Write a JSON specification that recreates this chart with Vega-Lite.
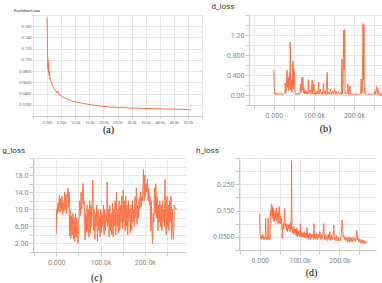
{
  "$schema": "https://vega.github.io/schema/vega-lite/v6.json",
  "padding": {"left": 2, "top": 2, "right": 0, "bottom": 0},
  "background": "white",
  "config": {
    "view": {"stroke": null},
    "axis": {
      "domainColor": "#c8c8c8",
      "gridColor": "#e6e6e6",
      "tickColor": "#c8c8c8",
      "tickSize": 4,
      "labelColor": "#888",
      "labelFontSize": 7,
      "labelFont": "Roboto",
      "labelPadding": 1,
      "labelOverlap": false,
      "labelFlush": false,
      "titleFont": "Liberation Serif",
      "titleFontSize": 10,
      "titleFontWeight": "normal",
      "titleColor": "#000",
      "titleBaseline": "middle",
      "titleAnchor": null
    },
    "title": {"font": "Roboto", "fontWeight": "normal", "color": "#333", "anchor": "start", "frame": "group"}
  },
  "datasets": {
    "a": [
      {"step": 0, "v": 0.175}, {"step": 150, "v": 0.12}, {"step": 250, "v": 0.085}, {"step": 350, "v": 0.1}, {"step": 450, "v": 0.078}, {"step": 550, "v": 0.095}, {"step": 700, "v": 0.072}, {"step": 850, "v": 0.08}, {"step": 1000, "v": 0.066}, {"step": 1200, "v": 0.068}, {"step": 1400, "v": 0.06}, {"step": 1600, "v": 0.059}, {"step": 1800, "v": 0.055}, {"step": 2000, "v": 0.054}, {"step": 2300, "v": 0.05}, {"step": 2600, "v": 0.049}, {"step": 2900, "v": 0.045}, {"step": 3200, "v": 0.045}, {"step": 3500, "v": 0.041}, {"step": 3800, "v": 0.044}, {"step": 4100, "v": 0.039}, {"step": 4400, "v": 0.04}, {"step": 4700, "v": 0.036}, {"step": 5000, "v": 0.036}, {"step": 5500, "v": 0.034}, {"step": 6000, "v": 0.033}, {"step": 6500, "v": 0.031}, {"step": 7000, "v": 0.031}, {"step": 7500, "v": 0.029}, {"step": 8000, "v": 0.029}, {"step": 9000, "v": 0.026}, {"step": 10000, "v": 0.026}, {"step": 11000, "v": 0.024}, {"step": 12000, "v": 0.0235}, {"step": 13000, "v": 0.022}, {"step": 14000, "v": 0.0215}, {"step": 15000, "v": 0.02}, {"step": 16000, "v": 0.0198}, {"step": 17000, "v": 0.019}, {"step": 18000, "v": 0.0185}, {"step": 19000, "v": 0.0175}, {"step": 20000, "v": 0.0172}, {"step": 22000, "v": 0.016}, {"step": 24000, "v": 0.0158}, {"step": 26000, "v": 0.015}, {"step": 28000, "v": 0.0148}, {"step": 30000, "v": 0.014}, {"step": 32000, "v": 0.0142}, {"step": 34000, "v": 0.0135}, {"step": 36000, "v": 0.0133}, {"step": 38000, "v": 0.013}, {"step": 40000, "v": 0.0128}, {"step": 42000, "v": 0.0125}, {"step": 44000, "v": 0.0124}, {"step": 46000, "v": 0.012}, {"step": 48000, "v": 0.0119}, {"step": 50000, "v": 0.0115}, {"step": 51000, "v": 0.0113}
    ],
    "b": [
      {"step": 0, "v": 0.5}, {"step": 1500, "v": 0.02}, {"step": 3000, "v": 0.06}, {"step": 4500, "v": 0.01}, {"step": 6000, "v": 0.03}, {"step": 8000, "v": 0.005}, {"step": 10000, "v": 0.04}, {"step": 12000, "v": 0.01}, {"step": 14000, "v": 0.02}, {"step": 16000, "v": 0.005}, {"step": 18000, "v": 0.03}, {"step": 20000, "v": 0.01}, {"step": 22000, "v": 0.02}, {"step": 24000, "v": 0.005}, {"step": 26000, "v": 0.03}, {"step": 27500, "v": 0.05}, {"step": 28300, "v": 0.24}, {"step": 29500, "v": 0.03}, {"step": 31000, "v": 0.12}, {"step": 33000, "v": 0.5}, {"step": 34500, "v": 0.15}, {"step": 36000, "v": 0.35}, {"step": 37500, "v": 0.08}, {"step": 39000, "v": 0.45}, {"step": 40200, "v": 0.2}, {"step": 41000, "v": 1.06}, {"step": 42000, "v": 0.1}, {"step": 43500, "v": 0.3}, {"step": 45000, "v": 0.05}, {"step": 46500, "v": 0.2}, {"step": 47700, "v": 0.68}, {"step": 49000, "v": 0.1}, {"step": 50000, "v": 0.52}, {"step": 51000, "v": 0.2}, {"step": 51700, "v": 0.45}, {"step": 53000, "v": 0.05}, {"step": 55000, "v": 0.01}, {"step": 57000, "v": 0.03}, {"step": 59000, "v": 0.01}, {"step": 61000, "v": 0.04}, {"step": 63000, "v": 0.01}, {"step": 65000, "v": 0.03}, {"step": 66700, "v": 0.22}, {"step": 68000, "v": 0.05}, {"step": 70000, "v": 0.35}, {"step": 71200, "v": 0.1}, {"step": 72500, "v": 0.36}, {"step": 74000, "v": 0.05}, {"step": 75000, "v": 0.15}, {"step": 76500, "v": 0.02}, {"step": 78000, "v": 0.1}, {"step": 80000, "v": 0.02}, {"step": 83300, "v": 0.08}, {"step": 85000, "v": 0.01}, {"step": 86700, "v": 0.31}, {"step": 88000, "v": 0.03}, {"step": 91700, "v": 0.1}, {"step": 93000, "v": 0.01}, {"step": 95800, "v": 0.3}, {"step": 97000, "v": 0.02}, {"step": 100000, "v": 0.22}, {"step": 101500, "v": 0.01}, {"step": 103000, "v": 0.05}, {"step": 105000, "v": 0.01}, {"step": 108000, "v": 0.08}, {"step": 110000, "v": 0.02}, {"step": 111700, "v": 0.26}, {"step": 113000, "v": 0.02}, {"step": 116000, "v": 0.12}, {"step": 118000, "v": 0.01}, {"step": 120000, "v": 0.05}, {"step": 122000, "v": 0.01}, {"step": 124000, "v": 0.23}, {"step": 125500, "v": 0.02}, {"step": 128000, "v": 0.08}, {"step": 130000, "v": 0.01}, {"step": 133300, "v": 0.45}, {"step": 134500, "v": 0.01}, {"step": 137500, "v": 0.05}, {"step": 139500, "v": 0.01}, {"step": 141700, "v": 0.12}, {"step": 143500, "v": 0.01}, {"step": 146700, "v": 0.08}, {"step": 148500, "v": 0.01}, {"step": 151700, "v": 0.13}, {"step": 153500, "v": 0.01}, {"step": 155800, "v": 0.08}, {"step": 158000, "v": 0.01}, {"step": 161700, "v": 0.08}, {"step": 163500, "v": 0.01}, {"step": 166700, "v": 0.05}, {"step": 168500, "v": 0.01}, {"step": 170000, "v": 0.72}, {"step": 171500, "v": 0.02}, {"step": 173000, "v": 0.3}, {"step": 174000, "v": 1.3}, {"step": 175500, "v": 0.5}, {"step": 176700, "v": 1.31}, {"step": 178000, "v": 0.02}, {"step": 179000, "v": 0.05}, {"step": 181000, "v": 0.01}, {"step": 183000, "v": 0.03}, {"step": 185000, "v": 0.22}, {"step": 186500, "v": 0.01}, {"step": 188000, "v": 0.04}, {"step": 190000, "v": 0.18}, {"step": 191500, "v": 0.01}, {"step": 195000, "v": 0.03}, {"step": 198000, "v": 0.005}, {"step": 201700, "v": 0.02}, {"step": 205000, "v": 0.005}, {"step": 210000, "v": 0.02}, {"step": 214000, "v": 0.005}, {"step": 216500, "v": 0.02}, {"step": 218000, "v": 0.32}, {"step": 219500, "v": 0.03}, {"step": 221000, "v": 0.1}, {"step": 222500, "v": 1.43}, {"step": 224000, "v": 0.3}, {"step": 225000, "v": 1.4}, {"step": 226000, "v": 0.05}, {"step": 226700, "v": 0.15}, {"step": 228000, "v": 0.01}, {"step": 230800, "v": 0.03}, {"step": 234000, "v": 0.005}, {"step": 239000, "v": 0.02}, {"step": 243000, "v": 0.005}, {"step": 247500, "v": 0.03}, {"step": 250000, "v": 0.01}, {"step": 251700, "v": 0.08}, {"step": 253500, "v": 0.01}, {"step": 256700, "v": 0.17}, {"step": 258000, "v": 0.03}, {"step": 260000, "v": 0.13}, {"step": 261500, "v": 0.01}, {"step": 262500, "v": 0.02}, {"step": 264000, "v": 0.0}, {"step": 266000, "v": 0.03}, {"step": 268000, "v": -0.02}, {"step": 270000, "v": 0.01}, {"step": 272500, "v": 0.0}, {"step": 274000, "v": -0.01}
    ],
    "c": [
      {"step": 0, "v": 4.3}, {"step": 1000, "v": 10}, {"step": 2500, "v": 8.8}, {"step": 4000, "v": 11.5}, {"step": 5500, "v": 9.5}, {"step": 7000, "v": 13.2}, {"step": 8500, "v": 9.2}, {"step": 10000, "v": 12.5}, {"step": 11500, "v": 9.8}, {"step": 13000, "v": 13}, {"step": 14500, "v": 8.8}, {"step": 16000, "v": 11.5}, {"step": 17500, "v": 9.5}, {"step": 19000, "v": 14}, {"step": 20500, "v": 10}, {"step": 22000, "v": 13.5}, {"step": 23500, "v": 9}, {"step": 25000, "v": 12.5}, {"step": 26500, "v": 15}, {"step": 28000, "v": 10.5}, {"step": 29000, "v": 14}, {"step": 30000, "v": 3.8}, {"step": 31500, "v": 9.8}, {"step": 33000, "v": 3.2}, {"step": 34500, "v": 8.5}, {"step": 36000, "v": 4}, {"step": 37500, "v": 9}, {"step": 39000, "v": 3}, {"step": 40500, "v": 8}, {"step": 42000, "v": 2.5}, {"step": 43500, "v": 9}, {"step": 45000, "v": 3.5}, {"step": 46500, "v": 8}, {"step": 48000, "v": 5}, {"step": 49000, "v": 2}, {"step": 50500, "v": 6}, {"step": 52000, "v": 9}, {"step": 53000, "v": 12}, {"step": 54500, "v": 8.5}, {"step": 56000, "v": 14}, {"step": 57500, "v": 10}, {"step": 59000, "v": 13}, {"step": 60500, "v": 16}, {"step": 62000, "v": 11}, {"step": 63500, "v": 12}, {"step": 65000, "v": 2.8}, {"step": 66500, "v": 9}, {"step": 68000, "v": 4.5}, {"step": 69500, "v": 11}, {"step": 71000, "v": 5}, {"step": 72500, "v": 10}, {"step": 74000, "v": 3.5}, {"step": 75500, "v": 12}, {"step": 77000, "v": 4.5}, {"step": 78500, "v": 11}, {"step": 80000, "v": 6}, {"step": 81500, "v": 13}, {"step": 82500, "v": 16.8}, {"step": 84000, "v": 5}, {"step": 85500, "v": 10}, {"step": 87000, "v": 3}, {"step": 88500, "v": 9}, {"step": 90000, "v": 6}, {"step": 91500, "v": 11}, {"step": 93000, "v": 2.5}, {"step": 94500, "v": 10}, {"step": 96000, "v": 5}, {"step": 97500, "v": 8}, {"step": 99000, "v": 3.5}, {"step": 100500, "v": 10}, {"step": 102000, "v": 4.5}, {"step": 103500, "v": 9}, {"step": 105000, "v": 6}, {"step": 106500, "v": 11}, {"step": 108000, "v": 4}, {"step": 109500, "v": 10}, {"step": 111000, "v": 5}, {"step": 112500, "v": 9}, {"step": 114000, "v": 7}, {"step": 115000, "v": 16.4}, {"step": 116500, "v": 6}, {"step": 118000, "v": 10}, {"step": 119500, "v": 3.5}, {"step": 121000, "v": 11}, {"step": 122500, "v": 5}, {"step": 124000, "v": 9}, {"step": 125500, "v": 4}, {"step": 127000, "v": 11.5}, {"step": 128500, "v": 3.5}, {"step": 130000, "v": 10}, {"step": 131500, "v": 6}, {"step": 133000, "v": 12}, {"step": 134500, "v": 4}, {"step": 136000, "v": 14}, {"step": 137500, "v": 6}, {"step": 139000, "v": 10}, {"step": 140500, "v": 4.5}, {"step": 142000, "v": 12}, {"step": 143500, "v": 5}, {"step": 145000, "v": 11}, {"step": 146500, "v": 7}, {"step": 148000, "v": 13}, {"step": 149500, "v": 5.5}, {"step": 151000, "v": 14.5}, {"step": 152500, "v": 7}, {"step": 154000, "v": 12}, {"step": 155500, "v": 5}, {"step": 157000, "v": 13}, {"step": 158500, "v": 6}, {"step": 160000, "v": 11}, {"step": 161500, "v": 4}, {"step": 163000, "v": 12}, {"step": 164500, "v": 7}, {"step": 166000, "v": 10}, {"step": 167500, "v": 4.5}, {"step": 169000, "v": 11}, {"step": 170500, "v": 5}, {"step": 172000, "v": 12}, {"step": 173500, "v": 7}, {"step": 175000, "v": 10}, {"step": 176500, "v": 6}, {"step": 178000, "v": 13}, {"step": 179500, "v": 8}, {"step": 181000, "v": 15}, {"step": 182500, "v": 6.5}, {"step": 184000, "v": 11}, {"step": 185500, "v": 8}, {"step": 187000, "v": 12.5}, {"step": 188500, "v": 10}, {"step": 190000, "v": 14}, {"step": 191500, "v": 10.5}, {"step": 193000, "v": 13}, {"step": 194500, "v": 12}, {"step": 196000, "v": 15}, {"step": 197000, "v": 19.3}, {"step": 198500, "v": 12}, {"step": 200000, "v": 18}, {"step": 201500, "v": 13}, {"step": 203000, "v": 16}, {"step": 204500, "v": 14}, {"step": 206000, "v": 17}, {"step": 207500, "v": 12}, {"step": 209000, "v": 15}, {"step": 210500, "v": 11}, {"step": 212000, "v": 13}, {"step": 213500, "v": 5}, {"step": 215000, "v": 12}, {"step": 216500, "v": 4}, {"step": 217500, "v": 2}, {"step": 219000, "v": 9}, {"step": 220500, "v": 7}, {"step": 222000, "v": 15}, {"step": 223500, "v": 9}, {"step": 225000, "v": 16}, {"step": 226500, "v": 8}, {"step": 228000, "v": 13}, {"step": 229500, "v": 5}, {"step": 231000, "v": 11}, {"step": 232500, "v": 7}, {"step": 234000, "v": 12}, {"step": 235500, "v": 6}, {"step": 237000, "v": 11}, {"step": 238500, "v": 5}, {"step": 240000, "v": 12}, {"step": 241500, "v": 7}, {"step": 243000, "v": 10}, {"step": 244500, "v": 6}, {"step": 245500, "v": 17}, {"step": 247000, "v": 8}, {"step": 248500, "v": 4}, {"step": 250000, "v": 13}, {"step": 251500, "v": 6}, {"step": 253000, "v": 11}, {"step": 254500, "v": 5}, {"step": 256000, "v": 12}, {"step": 257500, "v": 7}, {"step": 259000, "v": 13}, {"step": 260500, "v": 3}, {"step": 262000, "v": 10}, {"step": 263500, "v": 6}, {"step": 265000, "v": 3}, {"step": 266500, "v": 11}, {"step": 268000, "v": 10.5}, {"step": 270000, "v": 10}, {"step": 272000, "v": 10.2}
    ],
    "d": [
      {"step": 0, "v": 0.139}, {"step": 800, "v": 0.069}, {"step": 2000, "v": 0.05}, {"step": 3500, "v": 0.04}, {"step": 5000, "v": 0.055}, {"step": 6700, "v": 0.045}, {"step": 8000, "v": 0.06}, {"step": 9500, "v": 0.04}, {"step": 11000, "v": 0.05}, {"step": 12500, "v": 0.04}, {"step": 14000, "v": 0.045}, {"step": 15000, "v": 0.12}, {"step": 16000, "v": 0.045}, {"step": 17500, "v": 0.04}, {"step": 19000, "v": 0.05}, {"step": 20500, "v": 0.04}, {"step": 21000, "v": 0.12}, {"step": 22000, "v": 0.05}, {"step": 23500, "v": 0.04}, {"step": 25000, "v": 0.045}, {"step": 26000, "v": 0.04}, {"step": 27000, "v": 0.15}, {"step": 28000, "v": 0.12}, {"step": 29000, "v": 0.17}, {"step": 30000, "v": 0.175}, {"step": 31000, "v": 0.13}, {"step": 32000, "v": 0.165}, {"step": 33000, "v": 0.12}, {"step": 34000, "v": 0.16}, {"step": 35000, "v": 0.11}, {"step": 36500, "v": 0.15}, {"step": 37500, "v": 0.11}, {"step": 38500, "v": 0.14}, {"step": 40000, "v": 0.12}, {"step": 41700, "v": 0.16}, {"step": 43000, "v": 0.11}, {"step": 44500, "v": 0.14}, {"step": 46000, "v": 0.1}, {"step": 47500, "v": 0.15}, {"step": 49000, "v": 0.165}, {"step": 50500, "v": 0.1}, {"step": 52000, "v": 0.13}, {"step": 53500, "v": 0.1}, {"step": 55000, "v": 0.12}, {"step": 56700, "v": 0.044}, {"step": 58000, "v": 0.09}, {"step": 59000, "v": 0.1}, {"step": 60500, "v": 0.08}, {"step": 62500, "v": 0.158}, {"step": 64000, "v": 0.09}, {"step": 65500, "v": 0.1}, {"step": 67000, "v": 0.075}, {"step": 68500, "v": 0.1}, {"step": 70000, "v": 0.07}, {"step": 71500, "v": 0.095}, {"step": 73000, "v": 0.08}, {"step": 74500, "v": 0.1}, {"step": 76000, "v": 0.07}, {"step": 77500, "v": 0.107}, {"step": 79000, "v": 0.08}, {"step": 80000, "v": 0.339}, {"step": 81000, "v": 0.08}, {"step": 82500, "v": 0.065}, {"step": 84000, "v": 0.09}, {"step": 85500, "v": 0.06}, {"step": 87000, "v": 0.085}, {"step": 88500, "v": 0.065}, {"step": 90000, "v": 0.08}, {"step": 91500, "v": 0.055}, {"step": 93000, "v": 0.085}, {"step": 94500, "v": 0.05}, {"step": 96000, "v": 0.075}, {"step": 97500, "v": 0.055}, {"step": 99000, "v": 0.07}, {"step": 100500, "v": 0.05}, {"step": 102000, "v": 0.1}, {"step": 103500, "v": 0.05}, {"step": 105000, "v": 0.07}, {"step": 106500, "v": 0.05}, {"step": 108000, "v": 0.065}, {"step": 110000, "v": 0.05}, {"step": 111500, "v": 0.07}, {"step": 113000, "v": 0.045}, {"step": 115000, "v": 0.065}, {"step": 117000, "v": 0.045}, {"step": 119000, "v": 0.085}, {"step": 120500, "v": 0.045}, {"step": 122000, "v": 0.06}, {"step": 124000, "v": 0.04}, {"step": 126000, "v": 0.065}, {"step": 127500, "v": 0.04}, {"step": 129000, "v": 0.06}, {"step": 131000, "v": 0.045}, {"step": 133000, "v": 0.06}, {"step": 135000, "v": 0.04}, {"step": 136000, "v": 0.1}, {"step": 137500, "v": 0.045}, {"step": 139000, "v": 0.06}, {"step": 141000, "v": 0.04}, {"step": 143000, "v": 0.065}, {"step": 145000, "v": 0.04}, {"step": 147000, "v": 0.06}, {"step": 149000, "v": 0.045}, {"step": 151000, "v": 0.07}, {"step": 153000, "v": 0.04}, {"step": 155000, "v": 0.06}, {"step": 157000, "v": 0.045}, {"step": 159000, "v": 0.06}, {"step": 161000, "v": 0.1}, {"step": 162500, "v": 0.04}, {"step": 164000, "v": 0.06}, {"step": 166000, "v": 0.04}, {"step": 168000, "v": 0.055}, {"step": 170000, "v": 0.035}, {"step": 172000, "v": 0.06}, {"step": 174000, "v": 0.04}, {"step": 176000, "v": 0.07}, {"step": 178000, "v": 0.035}, {"step": 180000, "v": 0.055}, {"step": 182000, "v": 0.04}, {"step": 184000, "v": 0.05}, {"step": 186000, "v": 0.095}, {"step": 187500, "v": 0.04}, {"step": 189000, "v": 0.05}, {"step": 191000, "v": 0.035}, {"step": 193000, "v": 0.055}, {"step": 195000, "v": 0.035}, {"step": 197000, "v": 0.05}, {"step": 199000, "v": 0.035}, {"step": 201000, "v": 0.045}, {"step": 203000, "v": 0.035}, {"step": 205000, "v": 0.06}, {"step": 206700, "v": 0.114}, {"step": 208000, "v": 0.1}, {"step": 209500, "v": 0.05}, {"step": 211000, "v": 0.055}, {"step": 213000, "v": 0.04}, {"step": 215000, "v": 0.05}, {"step": 217000, "v": 0.035}, {"step": 219000, "v": 0.05}, {"step": 221000, "v": 0.03}, {"step": 223000, "v": 0.048}, {"step": 225000, "v": 0.03}, {"step": 227000, "v": 0.05}, {"step": 229000, "v": 0.032}, {"step": 231000, "v": 0.045}, {"step": 233000, "v": 0.03}, {"step": 235000, "v": 0.05}, {"step": 237000, "v": 0.035}, {"step": 239000, "v": 0.045}, {"step": 241000, "v": 0.032}, {"step": 243000, "v": 0.05}, {"step": 244000, "v": 0.075}, {"step": 245500, "v": 0.04}, {"step": 247000, "v": 0.045}, {"step": 249000, "v": 0.03}, {"step": 251000, "v": 0.042}, {"step": 253000, "v": 0.028}, {"step": 255000, "v": 0.04}, {"step": 257000, "v": 0.025}, {"step": 259000, "v": 0.038}, {"step": 261000, "v": 0.025}, {"step": 263000, "v": 0.035}, {"step": 265000, "v": 0.022}, {"step": 267000, "v": 0.032}, {"step": 269000, "v": 0.028}, {"step": 271000, "v": 0.03}
    ]
  },
  "spacing": 11,
  "vconcat": [
    {
      "spacing": 8,
      "hconcat": [
        {
          "data": {"name": "a"},
          "width": 169,
          "height": 101,
          "title": {"text": "EuclideanLoss", "fontSize": 4, "dx": -19, "offset": 0},
          "mark": {"type": "line", "color": "#ff7043", "strokeWidth": 1, "clip": true},
          "encoding": {
            "x": {
              "field": "step", "type": "quantitative",
              "scale": {"domain": [-5000, 55000], "nice": false, "zero": false},
              "axis": {
                "values": [-5000, 0, 5000, 10000, 15000, 20000, 25000, 30000, 35000, 40000, 45000, 50000, 55000],
                "labelExpr": "datum.value < 0 || datum.value > 50000 ? '' : (datum.value == 0 ? '0.000' : format(datum.value, '.3s'))",
                "labelFontSize": 3.8, "labelColor": "#666", "tickSize": 2, "labelPadding": 2,
                "title": "(a)", "titleX": 75, "titleY": 13.5
              }
            },
            "y": {
              "field": "v", "type": "quantitative",
              "scale": {"domain": [0, 0.18], "nice": false, "zero": false},
              "axis": {
                "values": [0, 0.02, 0.04, 0.06, 0.08, 0.1, 0.12, 0.14, 0.16, 0.18],
                "labelExpr": "datum.value <= 0 || datum.value > 0.17 ? '' : format(datum.value, '.3r')",
                "labelFontSize": 4, "labelColor": "#666", "tickSize": 1, "labelPadding": 1, "domain": false,
                "title": null
              }
            }
          }
        },
        {
          "data": {"name": "b"},
          "width": 145,
          "height": 90,
          "title": {"text": "d_loss", "fontSize": 8, "dx": -37.5, "offset": 0.5},
          "mark": {"type": "line", "color": "#ff7043", "strokeWidth": 1, "clip": true},
          "encoding": {
            "x": {
              "field": "step", "type": "quantitative",
              "scale": {"domain": [-62000, 300000], "nice": false, "zero": false},
              "axis": {
                "values": [-50000, 0, 50000, 100000, 150000, 200000, 250000],
                "labelExpr": "indexof([0, 100000, 200000], datum.value) >= 0 ? format(datum.value, '.4s') : ''",
                "labelPadding": 2,
                "title": "(b)", "titleX": 76, "titleY": 23.5
              }
            },
            "y": {
              "field": "v", "type": "quantitative",
              "scale": {"domain": [-0.2, 1.6], "nice": false, "zero": false},
              "axis": {
                "values": [-0.2, 0, 0.2, 0.4, 0.6, 0.8, 1.0, 1.2, 1.4, 1.6],
                "labelExpr": "datum.value == 0 ? '0.00' : (indexof([0.4, 0.8, 1.2], datum.value) >= 0 ? format(datum.value, '.3r') : '')",
                "title": null
              }
            }
          }
        }
      ]
    },
    {
      "spacing": 10,
      "hconcat": [
        {
          "data": {"name": "c"},
          "width": 153,
          "height": 94,
          "title": {"text": "g_loss", "fontSize": 8, "dx": -30.7, "offset": -0.5},
          "mark": {"type": "line", "color": "#ff7043", "strokeWidth": 1, "clip": true},
          "encoding": {
            "x": {
              "field": "step", "type": "quantitative",
              "scale": {"domain": [-52500, 293000], "nice": false, "zero": false},
              "axis": {
                "values": [-50000, 0, 50000, 100000, 150000, 200000, 250000],
                "labelExpr": "indexof([0, 100000, 200000], datum.value) >= 0 ? format(datum.value, '.4s') : ''",
                "labelPadding": 2,
                "title": "(c)", "titleX": 63, "titleY": 25.8
              }
            },
            "y": {
              "field": "v", "type": "quantitative",
              "scale": {"domain": [0, 22], "nice": false, "zero": false},
              "axis": {
                "values": [0, 2, 4, 6, 8, 10, 12, 14, 16, 18, 20, 22],
                "labelExpr": "indexof([2, 6, 10, 14, 18], datum.value) >= 0 ? format(datum.value, '.3r') : ''",
                "title": null
              }
            }
          }
        },
        {
          "data": {"name": "d"},
          "width": 137,
          "height": 92,
          "title": {"text": "h_loss", "fontSize": 8, "dx": -43, "offset": -0.5},
          "mark": {"type": "line", "color": "#ff7043", "strokeWidth": 1, "clip": true},
          "encoding": {
            "x": {
              "field": "step", "type": "quantitative",
              "scale": {"domain": [-52000, 292000], "nice": false, "zero": false},
              "axis": {
                "values": [-50000, 0, 50000, 100000, 150000, 200000, 250000],
                "labelExpr": "indexof([0, 100000, 200000], datum.value) >= 0 ? format(datum.value, '.4s') : ''",
                "labelPadding": 2,
                "title": "(d)", "titleX": 72, "titleY": 22
              }
            },
            "y": {
              "field": "v", "type": "quantitative",
              "scale": {"domain": [0, 0.35], "nice": false, "zero": false},
              "axis": {
                "values": [0, 0.05, 0.1, 0.15, 0.2, 0.25, 0.3, 0.35],
                "labelExpr": "indexof([0.05, 0.15, 0.25], datum.value) >= 0 ? format(datum.value, '.3r') : ''",
                "title": null
              }
            }
          }
        }
      ]
    }
  ]
}
